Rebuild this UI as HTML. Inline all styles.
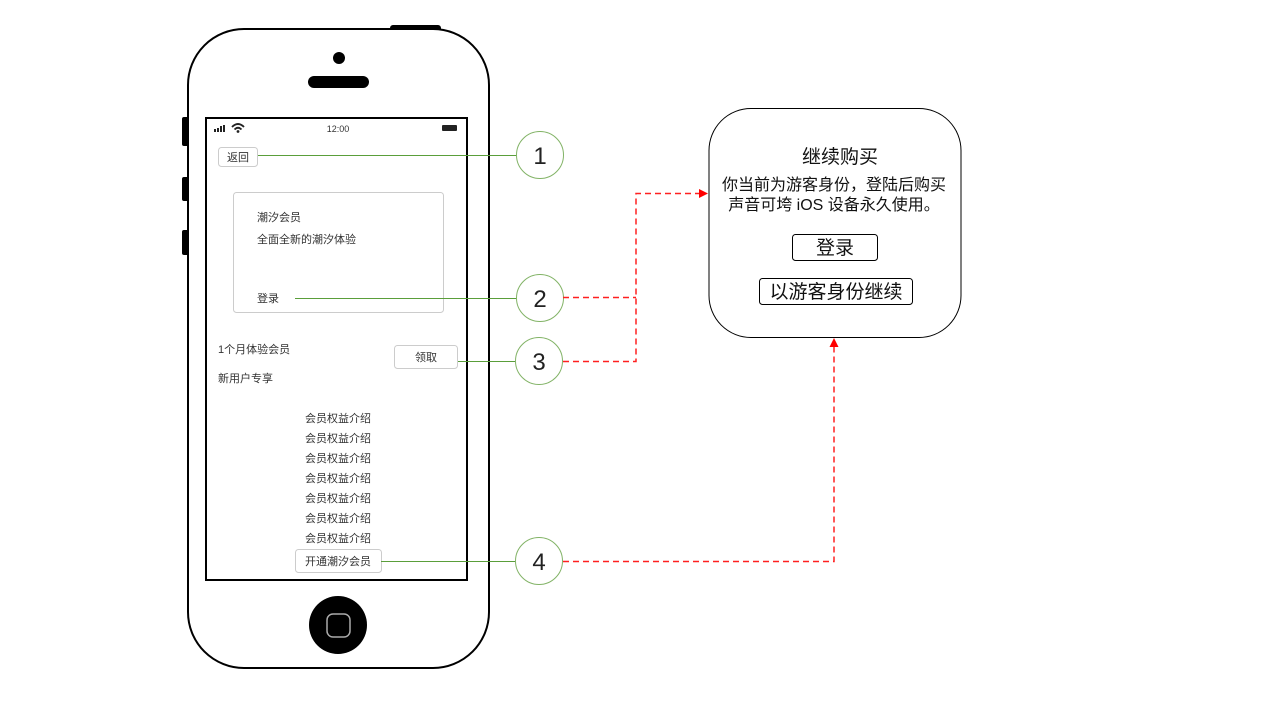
<!DOCTYPE html>
<html><head><meta charset="utf-8"><style>
html,body{margin:0;padding:0;background:#fff;}
svg{display:block;}
text{font-family:"Liberation Sans","Noto Sans CJK SC",sans-serif;}
</style></head><body>
<svg width="1280" height="720" viewBox="0 0 1280 720" xmlns="http://www.w3.org/2000/svg">
<rect x="390" y="25" width="51" height="8" rx="3" fill="#000"/>
<rect x="182" y="117" width="7" height="29" rx="2" fill="#000"/>
<rect x="182" y="177" width="7" height="24" rx="2" fill="#000"/>
<rect x="182" y="230" width="7" height="25" rx="2" fill="#000"/>
<rect x="188" y="29" width="301" height="639" rx="56" fill="#fff" stroke="#000" stroke-width="2"/>
<circle cx="339" cy="58" r="6" fill="#000"/>
<rect x="308" y="76" width="61" height="12" rx="6" fill="#000"/>
<rect x="206" y="118" width="261" height="462" fill="#fff" stroke="#000" stroke-width="2"/>
<circle cx="338" cy="625" r="29" fill="#000"/>
<rect x="327" y="614" width="23" height="23" rx="6" fill="none" stroke="#aaa" stroke-width="1.5"/>
<rect x="214" y="129" width="2" height="3" fill="#222"/>
<rect x="217" y="128" width="2" height="4" fill="#222"/>
<rect x="220" y="126" width="2" height="6" fill="#222"/>
<rect x="223" y="125" width="2" height="7" fill="#222"/>
<path d="M232 127 Q238 121 244 127" fill="none" stroke="#222" stroke-width="1.8"/>
<path d="M234.5 129.5 Q238 126 241.5 129.5" fill="none" stroke="#222" stroke-width="1.8"/>
<circle cx="238" cy="131.5" r="1.4" fill="#222"/>
<text x="338" y="132" font-size="9" text-anchor="middle" fill="#333">12:00</text>
<rect x="442" y="125" width="15" height="6" rx="1" fill="#222"/>
<rect x="218.5" y="147.5" width="39" height="19" rx="3" fill="#fff" stroke="#ccc"/>
<text x="238" y="161" font-size="11" text-anchor="middle" fill="#333">返回</text>
<rect x="233.5" y="192.5" width="210" height="120" rx="3" fill="#fff" stroke="#ccc"/>
<text x="257" y="221" font-size="11" fill="#333">潮汐会员</text>
<text x="257" y="243" font-size="11" fill="#333">全面全新的潮汐体验</text>
<text x="257" y="302" font-size="11" fill="#333">登录</text>
<text x="218" y="353" font-size="11" fill="#333">1个月体验会员</text>
<text x="218" y="382" font-size="11" fill="#333">新用户专享</text>
<rect x="394.5" y="345.5" width="63" height="23" rx="3" fill="#fff" stroke="#ccc"/>
<text x="426" y="361" font-size="11" text-anchor="middle" fill="#333">领取</text>
<g font-size="11" text-anchor="middle" fill="#333">
<text x="338" y="422">会员权益介绍</text>
<text x="338" y="442">会员权益介绍</text>
<text x="338" y="462">会员权益介绍</text>
<text x="338" y="482">会员权益介绍</text>
<text x="338" y="502">会员权益介绍</text>
<text x="338" y="522">会员权益介绍</text>
<text x="338" y="542">会员权益介绍</text>
</g>
<rect x="295.5" y="549.5" width="86" height="23" rx="3" fill="#fff" stroke="#ccc"/>
<text x="338" y="565" font-size="11" text-anchor="middle" fill="#333">开通潮汐会员</text>
<g stroke="#5a9e3a" stroke-width="1">
<line x1="258" y1="155.5" x2="517" y2="155.5"/>
<line x1="295" y1="298.5" x2="517" y2="298.5"/>
<line x1="458" y1="361.5" x2="516" y2="361.5"/>
<line x1="381" y1="561.5" x2="516" y2="561.5"/>
</g>
<g fill="#fff" stroke="#82b366" stroke-width="1">
<circle cx="540" cy="155" r="23.5"/>
<circle cx="540" cy="298" r="23.5"/>
<circle cx="539" cy="361" r="23.5"/>
<circle cx="539" cy="561" r="23.5"/>
</g>
<g font-size="24" text-anchor="middle" fill="#222">
<text x="540" y="164">1</text>
<text x="540" y="307">2</text>
<text x="539" y="370">3</text>
<text x="539" y="570">4</text>
</g>
<g fill="none" stroke="#ff2020" stroke-width="1.5" stroke-dasharray="6 4">
<polyline points="563,297.5 636,297.5"/>
<polyline points="563,361.5 636,361.5 636,193.5 700,193.5"/>
<polyline points="563,561.5 834,561.5 834,345"/>
</g>
<polygon points="708,193.5 699,189 699,198" fill="#f00"/>
<polygon points="834,338 829.5,347 838.5,347" fill="#f00"/>
<rect x="709" y="108.5" width="252" height="229" rx="42" fill="#fff" stroke="#000" stroke-width="1"/>
<text x="840" y="163" font-size="19" text-anchor="middle" fill="#111">继续购买</text>
<text x="834" y="190" font-size="16" text-anchor="middle" fill="#111">你当前为游客身份，登陆后购买</text>
<text x="834" y="210" font-size="16" text-anchor="middle" fill="#111">声音可垮 iOS 设备永久使用。</text>
<rect x="792.5" y="234.5" width="85" height="26" rx="3" fill="#fff" stroke="#000"/>
<text x="835" y="254" font-size="19" text-anchor="middle" fill="#111">登录</text>
<rect x="759.5" y="278.5" width="153" height="26" rx="3" fill="#fff" stroke="#000"/>
<text x="836" y="298" font-size="19" text-anchor="middle" fill="#111">以游客身份继续</text>
</svg>
</body></html>
